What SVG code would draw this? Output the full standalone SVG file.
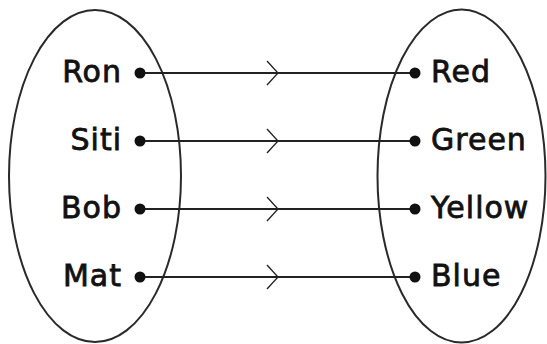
<svg xmlns="http://www.w3.org/2000/svg" width="547" height="344" viewBox="0 0 547 344">
<style>
.set{fill:none;stroke:#2a2a2a;stroke-width:2}
.lbl{font-family:"DejaVu Sans",Verdana,sans-serif;font-size:30px;letter-spacing:1px;fill:#111;stroke:#111;stroke-width:0.8}
.dot{fill:#111}
.edge{stroke:#222;stroke-width:1.8;fill:none}
.chev{stroke:#222;stroke-width:1.3;fill:none}
</style>
<rect width="547" height="344" fill="#fff"/>
<g id="domain">
<ellipse class="set" cx="95" cy="176" rx="86" ry="166"/>
</g>
<g id="codomain">
<ellipse class="set" cx="461.5" cy="176" rx="84" ry="166.5"/>
</g>
<g id="connectors">
<line class="edge" x1="140" y1="73" x2="415" y2="73"/>
<polyline class="chev" points="267,61 278,73 267,85"/>
<line class="edge" x1="140" y1="141" x2="415" y2="141"/>
<polyline class="chev" points="267,129 278,141 267,153"/>
<line class="edge" x1="140" y1="209" x2="415" y2="209"/>
<polyline class="chev" points="267,197 278,209 267,221"/>
<line class="edge" x1="140" y1="277" x2="415" y2="277"/>
<polyline class="chev" points="267,265 278,277 267,289"/>
</g>
<g id="ron"><circle class="dot" cx="140" cy="73" r="5.5"/><text class="lbl" x="122" y="82" text-anchor="end">Ron</text></g>
<g id="siti"><circle class="dot" cx="140" cy="141" r="5.5"/><text class="lbl" x="122" y="150" text-anchor="end">Siti</text></g>
<g id="bob"><circle class="dot" cx="140" cy="209" r="5.5"/><text class="lbl" x="122" y="218" text-anchor="end">Bob</text></g>
<g id="mat"><circle class="dot" cx="140" cy="277" r="5.5"/><text class="lbl" x="122" y="286" text-anchor="end">Mat</text></g>
<g id="red"><circle class="dot" cx="415" cy="73" r="5.5"/><text class="lbl" x="431" y="82">Red</text></g>
<g id="green"><circle class="dot" cx="415" cy="141" r="5.5"/><text class="lbl" x="431" y="150">Green</text></g>
<g id="yellow"><circle class="dot" cx="415" cy="209" r="5.5"/><text class="lbl" x="431" y="218">Yellow</text></g>
<g id="blue"><circle class="dot" cx="415" cy="277" r="5.5"/><text class="lbl" x="431" y="286">Blue</text></g>
</svg>
